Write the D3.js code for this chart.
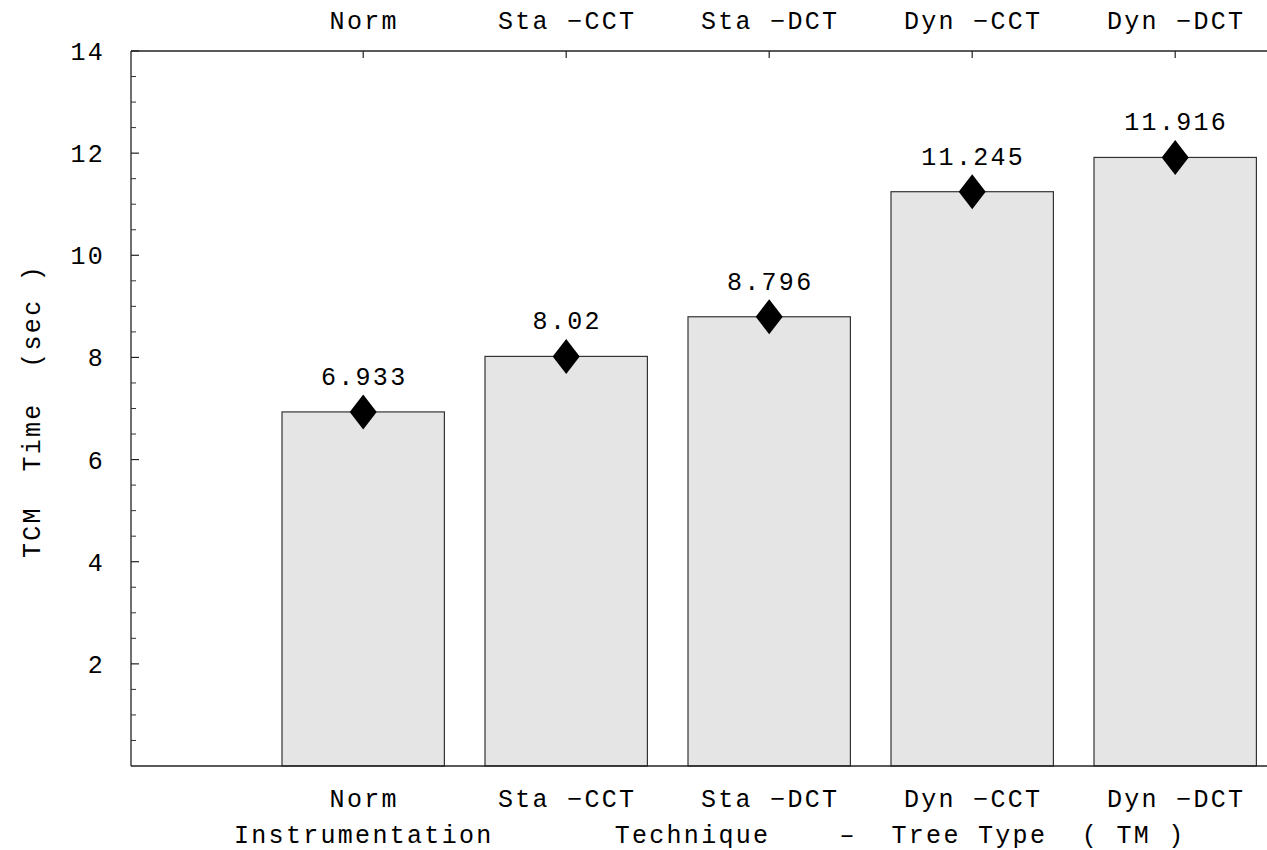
<!DOCTYPE html>
<html>
<head>
<meta charset="utf-8">
<script src="https://cdn.jsdelivr.net/npm/d3@7"></script>
<style>
  body { margin: 0; background: #fff; }
  text { font-family: "Liberation Mono", "DejaVu Sans Mono", monospace; font-size: 25px; fill: #000; letter-spacing: 2.3px; white-space: pre; }
</style>
</head>
<body>
<div class="chart"></div>
<script>
const width = 1267,
    height = 850,
    margin = { top: 51, bottom: 84, left: 131, right: 0 };

// data
const categories = ["Norm", "Sta \u2212CCT", "Sta \u2212DCT", "Dyn \u2212CCT", "Dyn \u2212DCT"];
const times = [6.933, 8.02, 8.796, 11.245, 11.916];
const yMajorTicks = [2, 4, 6, 8, 10, 12, 14];
const yLabel = "TCM  Time  (sec )";
const xLabel = "Instrumentation       Technique    \u2013  Tree Type  ( TM )";

const svg = d3.select(".chart")
    .append("svg")
    .attr("width", width)
    .attr("height", height)

const y = d3.scaleLinear()
    .domain([0, 14])
    .range([height - margin.bottom, margin.top])

const x = d3.scaleBand()
    .domain(categories)
    .range([261.7, 1276.7])
    .paddingInner(0.2)
    .paddingOuter(0.1)

const y0 = y(0);
const cx = d => x(d) + x.bandwidth() / 2;

// bars
svg.selectAll("rect.bar")
    .data(categories)
    .join("rect")
    .attr("class", "bar")
    .attr("x", d => x(d))
    .attr("width", x.bandwidth())
    .attr("y", (d, i) => y(times[i]))
    .attr("height", (d, i) => y0 - y(times[i]))
    .attr("fill", "#e5e5e5")
    .attr("stroke", "#333")
    .attr("stroke-width", 1.2)

// frame lines
svg.append("line")
    .attr("x1", margin.left).attr("x2", width)
    .attr("y1", y0).attr("y2", y0)
    .attr("stroke", "#222").attr("stroke-width", 1.3)
svg.append("line")
    .attr("x1", margin.left).attr("x2", width)
    .attr("y1", y(14)).attr("y2", y(14))
    .attr("stroke", "#222").attr("stroke-width", 1.3)
svg.append("line")
    .attr("x1", margin.left).attr("x2", margin.left)
    .attr("y1", y0).attr("y2", y(14))
    .attr("stroke", "#222").attr("stroke-width", 1.3)

// y ticks
const minor = d3.range(0.5, 14, 0.5).filter(v => v % 2 !== 0);
svg.selectAll("line.minor")
    .data(minor)
    .join("line")
    .attr("class", "minor")
    .attr("x1", margin.left).attr("x2", margin.left + 5)
    .attr("y1", d => y(d)).attr("y2", d => y(d))
    .attr("stroke", "#333").attr("stroke-width", 1)
svg.selectAll("line.major")
    .data(yMajorTicks)
    .join("line")
    .attr("class", "major")
    .attr("x1", margin.left).attr("x2", margin.left + 8)
    .attr("y1", d => y(d)).attr("y2", d => y(d))
    .attr("stroke", "#222").attr("stroke-width", 1.2)
svg.selectAll("text.ytick")
    .data(yMajorTicks)
    .join("text")
    .attr("class", "ytick")
    .attr("x", 105)
    .attr("y", d => y(d) + 9)
    .attr("text-anchor", "end")
    .text(d => d)

// top ticks
svg.selectAll("line.toptick")
    .data(categories)
    .join("line")
    .attr("class", "toptick")
    .attr("x1", cx).attr("x2", cx)
    .attr("y1", y(14)).attr("y2", y(14) + 7)
    .attr("stroke", "#222").attr("stroke-width", 1.2)

// category labels top and bottom
svg.selectAll("text.toplabel")
    .data(categories)
    .join("text")
    .attr("class", "toplabel")
    .attr("x", d => cx(d) + 1)
    .attr("y", 29)
    .attr("text-anchor", "middle")
    .text(d => d)
svg.selectAll("text.botlabel")
    .data(categories)
    .join("text")
    .attr("class", "botlabel")
    .attr("x", d => cx(d) + 1)
    .attr("y", 807)
    .attr("text-anchor", "middle")
    .text(d => d)

// diamonds + values
const diamond = "M0,-17.5L13.5,0L0,17.5L-13.5,0Z";
svg.selectAll("path.diamond")
    .data(categories)
    .join("path")
    .attr("class", "diamond")
    .attr("d", diamond)
    .attr("transform", (d, i) => `translate(${cx(d)}, ${y(times[i])})`)
    .attr("fill", "#000")
svg.selectAll("text.value")
    .data(categories)
    .join("text")
    .attr("class", "value")
    .attr("x", d => cx(d) + 1)
    .attr("y", (d, i) => y(times[i]) - 27)
    .attr("text-anchor", "middle")
    .text((d, i) => String(times[i]))

// axis titles
svg.append("text")
    .attr("transform", `translate(${40}, ${411})rotate(-90)`)
    .attr("text-anchor", "middle")
    .text(yLabel)
svg.append("text")
    .attr("x", 234)
    .attr("y", 843)
    .attr("text-anchor", "start")
    .text(xLabel)
</script>
</body>
</html>
